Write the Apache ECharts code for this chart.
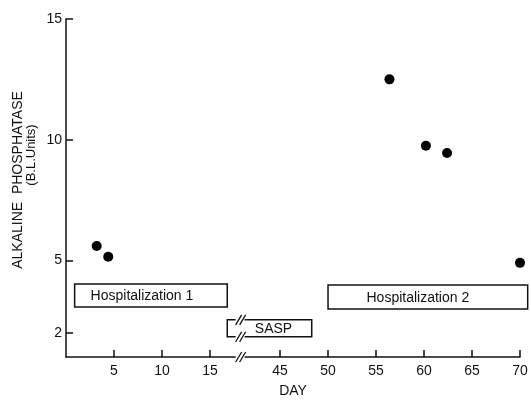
<!DOCTYPE html>
<html>
<head>
<meta charset="utf-8">
<script src="https://cdn.jsdelivr.net/npm/echarts@6/dist/echarts.min.js"></script>
<style>
  html, body { margin: 0; padding: 0; background: #fff; }
  #chart { width: 531px; height: 403px; }
</style>
</head>
<body>
<div id="chart"></div>
<script>
// tick labels
const xTicks = [5, 10, 15, 45, 50, 55, 60, 65, 70];
const yTicks = [2, 5, 10, 15];
// measurements
const days = [3.2, 4.4, 56.4, 60.2, 62.4, 70];
const phosphatase = [5.6, 5.15, 12.5, 9.75, 9.45, 4.9];
// treatment periods (boxes)
const periodNames = ["Hospitalization 1", "SASP", "Hospitalization 2"];
const periodStart = [0.9, 16.8, 50];
const periodEnd = [16.8, 48.3, 70.8];
const periodLow = [3.07, 1.84, 2.99];
const periodHigh = [4.02, 2.54, 3.98];
// skipped days on the x axis
const dayBreak = [18.3, 41];

const labelShift = [-9, 4, -10];
const font = '"Liberation Sans", Arial, sans-serif';
const ink = "#111";

const chart = echarts.init(document.getElementById("chart"));

chart.setOption({
  animation: false,
  backgroundColor: "#fff",
  grid: { left: 66, right: 11, top: 19, bottom: 42 },
  xAxis: {
    type: "value",
    min: 0,
    max: 70,
    breaks: [{ start: dayBreak[0], end: dayBreak[1], gap: 0 }],
    breakArea: { show: false },
    name: "DAY",
    nameLocation: "middle",
    nameGap: 27,
    nameTextStyle: { color: ink, fontFamily: font, fontSize: 14 },
    axisLine: { lineStyle: { color: ink, width: 1.5 } },
    axisTick: { inside: true, length: 7, customValues: xTicks, lineStyle: { color: ink, width: 1.5 } },
    axisLabel: { customValues: xTicks, color: ink, fontFamily: font, fontSize: 14, margin: 7 },
    splitLine: { show: false }
  },
  yAxis: {
    type: "value",
    min: 1,
    max: 15,
    axisLine: { show: true, lineStyle: { color: ink, width: 1.5 } },
    axisTick: { show: true, inside: true, length: 7, customValues: yTicks, lineStyle: { color: ink, width: 1.5 } },
    axisLabel: { customValues: yTicks, color: ink, fontFamily: font, fontSize: 14, margin: 4 },
    splitLine: { show: false }
  },
  series: [
    {
      type: "custom",
      clip: false,
      z: 1,
      encode: { x: [0, 1], y: [2, 3] },
      data: periodNames.map((n, i) => [periodStart[i], periodEnd[i], periodLow[i], periodHigh[i]]),
      renderItem: function (params, api) {
        const i = params.dataIndex;
        const p0 = api.coord([api.value(0), api.value(3)]);
        const p1 = api.coord([api.value(1), api.value(2)]);
        return {
          type: "group",
          children: [
            {
              type: "rect",
              shape: { x: p0[0], y: p0[1], width: p1[0] - p0[0], height: p1[1] - p0[1] },
              style: { fill: "#fff", stroke: ink, lineWidth: 1.5 }
            },
            {
              type: "text",
              style: {
                text: periodNames[i],
                x: (p0[0] + p1[0]) / 2 + labelShift[i],
                y: (p0[1] + p1[1]) / 2 + 1,
                align: "center",
                verticalAlign: "middle",
                font: "14px " + font,
                fill: ink
              }
            }
          ]
        };
      }
    },
    {
      type: "scatter",
      z: 3,
      symbolSize: 10,
      itemStyle: { color: "#000", opacity: 1 },
      data: days.map((d, i) => [d, phosphatase[i]])
    }
  ]
});

// "//" break marks on the axis and across the SASP box
const bx = chart.convertToPixel({ xAxisIndex: 0 }, dayBreak[0]) - 3;
const markYs = [
  chart.convertToPixel({ yAxisIndex: 0 }, 1),
  chart.convertToPixel({ yAxisIndex: 0 }, periodHigh[1]),
  chart.convertToPixel({ yAxisIndex: 0 }, periodLow[1])
];
const marks = [];
markYs.forEach(y => {
  marks.push({ type: "rect", shape: { x: bx - 3, y: y - 2, width: 9, height: 4 }, style: { fill: "#fff" }, z: 10 });
  [0, 4].forEach(dx => {
    marks.push({
      type: "line",
      shape: { x1: bx - 3 + dx, y1: y + 5, x2: bx + 3 + dx, y2: y - 5 },
      style: { stroke: ink, lineWidth: 1.3 },
      z: 11
    });
  });
});

chart.setOption({
  graphic: marks.concat([
    {
      type: "text",
      x: 18, y: 180, rotation: Math.PI / 2,
      style: { text: "ALKALINE  PHOSPHATASE", font: "14px " + font, fill: ink, align: "center", verticalAlign: "middle" }
    },
    {
      type: "text",
      x: 31, y: 155, rotation: Math.PI / 2,
      style: { text: "(B.L.Units)", font: "13px " + font, fill: ink, align: "center", verticalAlign: "middle" }
    }
  ])
});
</script>
</body>
</html>
